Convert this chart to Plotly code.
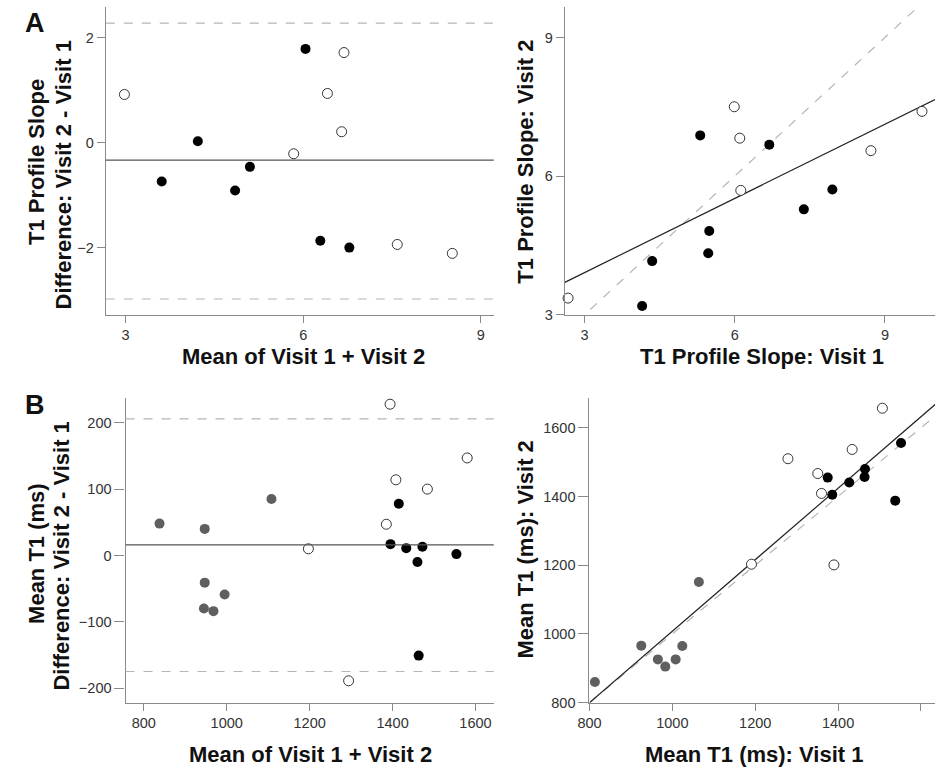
import plotly.graph_objects as go

# ---------------- Panel A: T1 profile slope ----------------
# Bland-Altman (mean vs difference)
A_ba_mean_filled = [3.61, 4.22, 4.85, 5.10, 6.04, 6.29, 6.78]
A_ba_diff_filled = [-0.74, 0.03, -0.91, -0.46, 1.79, -1.87, -2.00]
A_ba_mean_open = [2.98, 5.84, 6.41, 6.65, 6.69, 7.59, 8.52]
A_ba_diff_open = [0.92, -0.21, 0.94, 0.21, 1.72, -1.94, -2.11]
A_bias = -0.33
A_loa = [2.28, -2.98]

# Scatter (visit 1 vs visit 2)
A_v1_filled = [4.15, 4.35, 5.31, 5.47, 5.49, 6.69, 7.38, 7.95]
A_v2_filled = [3.19, 4.16, 6.88, 4.33, 4.81, 6.68, 5.28, 5.71]
A_v1_open = [2.67, 5.99, 6.10, 6.12, 8.72, 9.74]
A_v2_open = [3.36, 7.50, 6.82, 5.69, 6.55, 7.40]
A_fit = [2.307, 0.535]  # intercept, slope

# ---------------- Panel B: mean T1 (ms) ----------------
B_ba_mean_gray = [838, 947, 947, 945, 968, 995, 1108]
B_ba_diff_gray = [48, 40, -41, -80, -84, -59, 85]
B_ba_mean_open = [1197, 1394, 1385, 1408, 1484, 1580, 1294]
B_ba_diff_open = [10, 228, 47, 114, 100, 147, -189]
B_ba_mean_filled = [1415, 1395, 1433, 1472, 1460, 1554, 1463]
B_ba_diff_filled = [78, 17, 11, 13, -10, 2, -151]
B_bias = 16
B_loa = [206, -175]

B_v1_gray = [813, 925, 965, 983, 1008, 1024, 1064]
B_v2_gray = [860, 966, 926, 905, 926, 965, 1151]
B_v1_open = [1191, 1279, 1351, 1360, 1390, 1434, 1507]
B_v2_open = [1203, 1510, 1467, 1409, 1201, 1537, 1657]
B_v1_filled = [1375, 1386, 1427, 1465, 1464, 1538, 1552]
B_v2_filled = [1455, 1405, 1441, 1480, 1457, 1388, 1556]
B_fit = [-32, 1.04]

A_ticks = [3, 6, 9]
A_ba_yticks = [-2, 0, 2]
B_ba_yticks = [-200, -100, 0, 100, 200]
B_xticks = [800, 1000, 1200, 1400, 1600]
B_yticks = [800, 1000, 1200, 1400, 1600]

W, H = 935, 777
FONT = "Arial, Liberation Sans, sans-serif"
AXC = "#8a8a8a"

def px(x):
    return x / W

def py(y):
    return 1 - y / H

fig = go.Figure()

def mk_filled(color="#000000"):
    return dict(size=10, color=color, line=dict(width=0))

def mk_open():
    return dict(size=10, color="white", line=dict(width=1, color="#333333"))

# Panel A - BA (x, y)
fig.add_trace(go.Scatter(x=A_ba_mean_filled, y=A_ba_diff_filled, mode="markers",
                         marker=mk_filled(), xaxis="x", yaxis="y"))
fig.add_trace(go.Scatter(x=A_ba_mean_open, y=A_ba_diff_open, mode="markers",
                         marker=mk_open(), xaxis="x", yaxis="y"))

# Panel A - scatter (x2, y2)
A_xr = [2.605, 10.0]
fig.add_trace(go.Scatter(x=[1, 12], y=[1, 12], mode="lines",
                         line=dict(color="#b5b5b5", width=1.2, dash="dash"),
                         xaxis="x2", yaxis="y2"))
fig.add_trace(go.Scatter(x=A_xr, y=[A_fit[0] + A_fit[1] * v for v in A_xr], mode="lines",
                         line=dict(color="#222222", width=1.2), xaxis="x2", yaxis="y2"))
fig.add_trace(go.Scatter(x=A_v1_filled, y=A_v2_filled, mode="markers",
                         marker=mk_filled(), xaxis="x2", yaxis="y2"))
fig.add_trace(go.Scatter(x=A_v1_open, y=A_v2_open, mode="markers",
                         marker=mk_open(), xaxis="x2", yaxis="y2", cliponaxis=False))

# Panel B - BA (x3, y3)
fig.add_trace(go.Scatter(x=B_ba_mean_gray, y=B_ba_diff_gray, mode="markers",
                         marker=mk_filled("#5f5f5f"), xaxis="x3", yaxis="y3"))
fig.add_trace(go.Scatter(x=B_ba_mean_open, y=B_ba_diff_open, mode="markers",
                         marker=mk_open(), xaxis="x3", yaxis="y3"))
fig.add_trace(go.Scatter(x=B_ba_mean_filled, y=B_ba_diff_filled, mode="markers",
                         marker=mk_filled(), xaxis="x3", yaxis="y3"))

# Panel B - scatter (x4, y4)
B_xr = [800, 1640]
fig.add_trace(go.Scatter(x=[600, 1800], y=[600, 1800], mode="lines",
                         line=dict(color="#b5b5b5", width=1.2, dash="dash"),
                         xaxis="x4", yaxis="y4"))
fig.add_trace(go.Scatter(x=B_xr, y=[B_fit[0] + B_fit[1] * v for v in B_xr], mode="lines",
                         line=dict(color="#222222", width=1.2), xaxis="x4", yaxis="y4"))
fig.add_trace(go.Scatter(x=B_v1_gray, y=B_v2_gray, mode="markers",
                         marker=mk_filled("#5f5f5f"), xaxis="x4", yaxis="y4"))
fig.add_trace(go.Scatter(x=B_v1_open, y=B_v2_open, mode="markers",
                         marker=mk_open(), xaxis="x4", yaxis="y4"))
fig.add_trace(go.Scatter(x=B_v1_filled, y=B_v2_filled, mode="markers",
                         marker=mk_filled(), xaxis="x4", yaxis="y4"))

# bias and limits of agreement
shapes = []
for xr, yr, bias, loa in [("x", "y", A_bias, A_loa), ("x3", "y3", B_bias, B_loa)]:
    shapes.append(dict(type="line", xref=xr + " domain", yref=yr, x0=0, x1=1, y0=bias, y1=bias,
                       line=dict(color="#555555", width=1.2)))
    for v in loa:
        shapes.append(dict(type="line", xref=xr + " domain", yref=yr, x0=0, x1=1, y0=v, y1=v,
                           line=dict(color="#b5b5b5", width=1.2, dash="dash")))

def ax(domain, rng, ticks, anchor, tlen):
    return dict(domain=domain, range=rng, tickvals=ticks, anchor=anchor,
                showline=True, linecolor=AXC, linewidth=1.2, ticks="outside",
                ticklen=tlen, tickcolor=AXC, tickwidth=1.2, showgrid=False, zeroline=False,
                tickfont=dict(family=FONT, size=14.5, color="#333333"), fixedrange=True)

topy = [py(318), py(7)]
boty = [py(710), py(401.7)]

fig.update_layout(
    width=W, height=H, margin=dict(l=0, r=0, t=0, b=0),
    paper_bgcolor="white", plot_bgcolor="white", showlegend=False,
    shapes=shapes,
    xaxis=ax([px(95), px(488)], [2.665, 9.22], A_ticks, "y", 7),
    yaxis=ax(topy, [-3.28, 2.59], A_ba_yticks, "x", 8),
    xaxis2=ax([px(560), 1.0], [2.605, 10.0], A_ticks, "y2", 7),
    yaxis2=ax(topy, [3.0, 9.66], A_ticks, "x2", 8),
    xaxis3=ax([px(115), px(488)], [756, 1644], B_xticks, "y3", 7),
    yaxis3=ax(boty, [-222, 238], B_ba_yticks, "x3", 10),
    xaxis4=ax([px(585), 1.0], [800, 1634], B_xticks, "y4", 7),
    yaxis4=ax(boty, [800, 1688], B_yticks, "x4", 10),
)

def ann(text, x, y, size=22, angle=0):
    fig.add_annotation(text=text, x=px(x), y=py(y), xref="paper", yref="paper",
                       showarrow=False, textangle=angle, xanchor="center", yanchor="middle",
                       font=dict(family=FONT, size=size, color="#111111"))

ann("<b>A</b>", 23, 23, size=27)
ann("<b>B</b>", 23, 409, size=27)

ann("<b>Mean of Visit 1 + Visit 2</b>", 295, 360)
ann("<b>T1 Profile Slope: Visit 1</b>", 760, 360)
ann("<b>T1 Profile Slope</b>", 25, 164, angle=-90)
ann("<b>Difference: Visit 2 - Visit 1</b>", 52, 177, angle=-90)
ann("<b>T1 Profile Slope: Visit 2</b>", 520, 163, angle=-90)

ann("<b>Mean of Visit 1 + Visit 2</b>", 302, 762)
ann("<b>Mean T1 (ms): Visit 1</b>", 752, 762)
ann("<b>Mean T1 (ms)</b>", 25, 559, angle=-90)
ann("<b>Difference: Visit 2 - Visit 1</b>", 50, 562, angle=-90)
ann("<b>Mean T1 (ms): Visit 2</b>", 520, 555, angle=-90)

fig.write_html("out.html")
